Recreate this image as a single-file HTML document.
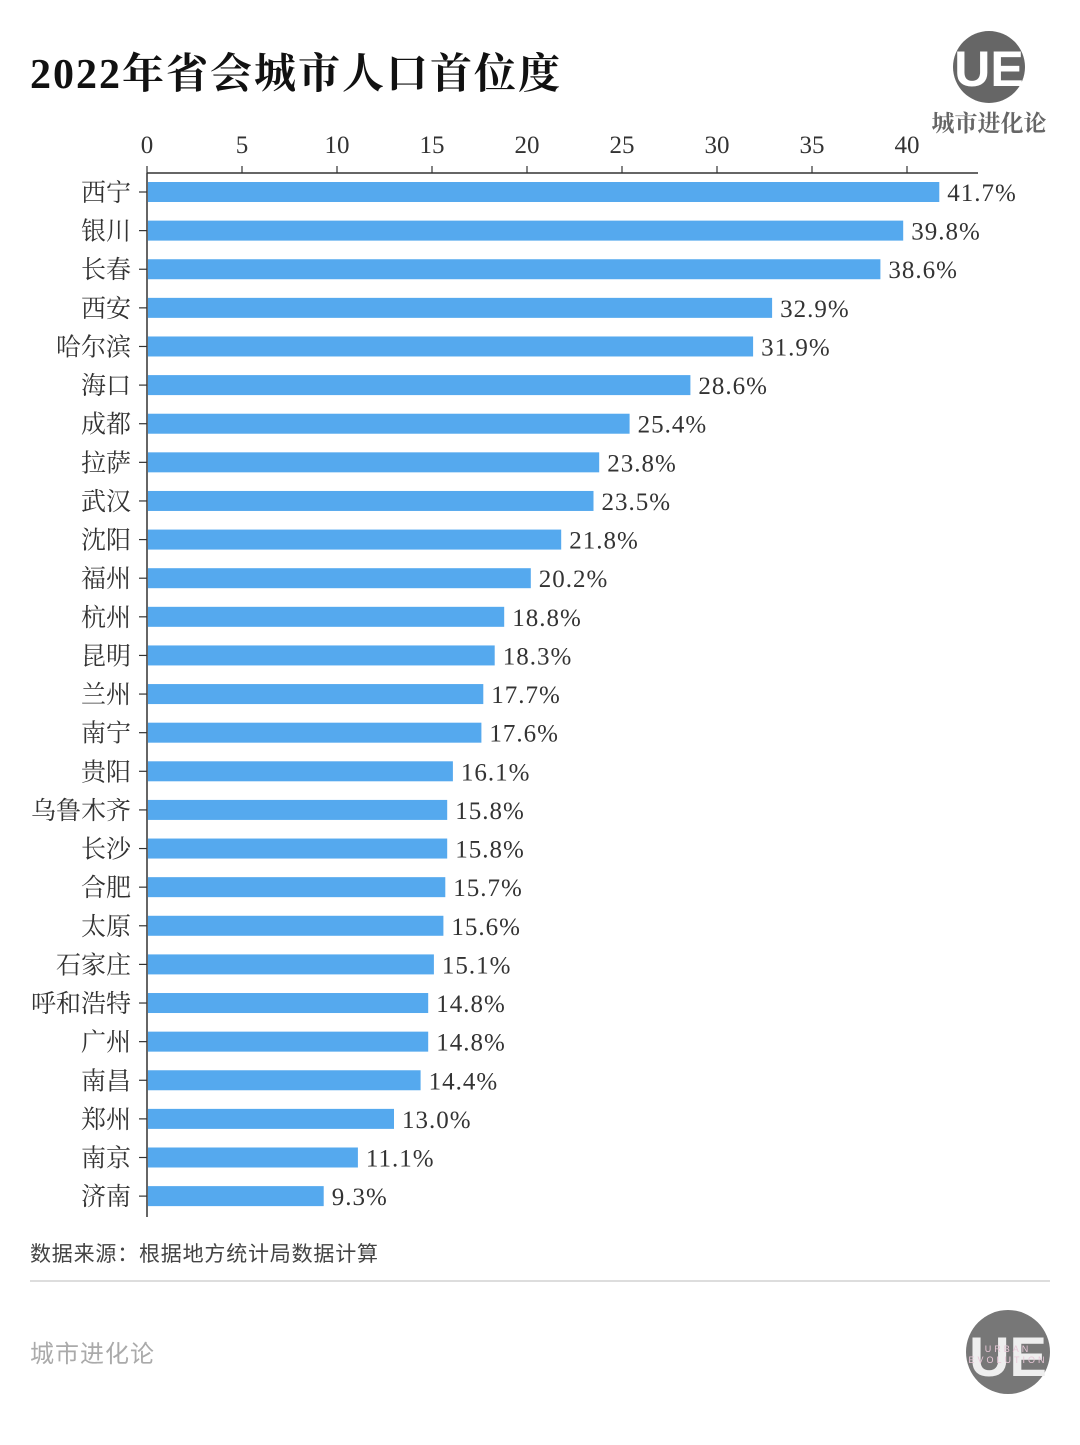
<!DOCTYPE html>
<html><head><meta charset="utf-8">
<style>
html,body{margin:0;padding:0;background:#fff;}
body{width:1080px;height:1440px;overflow:hidden;position:relative;}
svg text{font-family:"Liberation Serif","Noto Serif CJK SC",serif;}
</style></head>
<body>
<svg id="chart" width="1080" height="1440" viewBox="0 0 1080 1440" xmlns="http://www.w3.org/2000/svg">
  <text x="30" y="88" font-size="42" font-weight="bold" fill="#111" letter-spacing="2" style="font-family:'Liberation Serif','Noto Serif CJK SC',serif">2022年省会城市人口首位度</text>
  <g>
    <circle cx="989" cy="67" r="36" fill="#666"/>
    <text x="989" y="86" font-size="50" font-weight="bold" fill="#fff" text-anchor="middle" style="font-family:'Liberation Sans',sans-serif">UE</text>
    <text x="989" y="131" font-size="23" font-weight="bold" fill="#666" text-anchor="middle" style="font-family:'Liberation Serif','Noto Serif CJK SC',serif">城市进化论</text>
  </g>
  <g id="plot"></g>
  <text x="30" y="1261" font-size="21" fill="#444" letter-spacing="0.8" style="font-family:'Liberation Sans','Noto Sans CJK SC',sans-serif">数据来源：根据地方统计局数据计算</text>
  <line x1="30" y1="1281" x2="1050" y2="1281" stroke="#ddd" stroke-width="2"/>
  <text x="30" y="1362" font-size="24" fill="#aaa" letter-spacing="1" style="font-family:'Liberation Sans','Noto Sans CJK SC',sans-serif">城市进化论</text>
  <g>
    <circle cx="1008" cy="1352" r="42" fill="#777"/>
    <text x="1008" y="1376" font-size="56" font-weight="bold" fill="#eee" text-anchor="middle" style="font-family:'Liberation Sans',sans-serif">UE</text>
    <text x="1008" y="1352" font-size="9" fill="#e8c8d8" text-anchor="middle" letter-spacing="3" style="font-family:'Liberation Sans',sans-serif">URBAN</text>
    <text x="1008" y="1363" font-size="9" fill="#e8c8d8" text-anchor="middle" letter-spacing="3" style="font-family:'Liberation Sans',sans-serif">EVOLUTION</text>
  </g>
</svg>
<script>
const cities = ["西宁","银川","长春","西安","哈尔滨","海口","成都","拉萨","武汉","沈阳","福州","杭州","昆明","兰州","南宁","贵阳","乌鲁木齐","长沙","合肥","太原","石家庄","呼和浩特","广州","南昌","郑州","南京","济南"];
const values = [41.7,39.8,38.6,32.9,31.9,28.6,25.4,23.8,23.5,21.8,20.2,18.8,18.3,17.7,17.6,16.1,15.8,15.8,15.7,15.6,15.1,14.8,14.8,14.4,13.0,11.1,9.3];
const ticks = [0,5,10,15,20,25,30,35,40];

const NS = "http://www.w3.org/2000/svg";
const plot = document.getElementById('plot');
const x0 = 147, pxPerUnit = 19, yFirst = 192, rowStep = 38.62, barH = 20;
const xs = v => x0 + v * pxPerUnit;
const ys = i => yFirst + i * rowStep;
function mk(tag, attrs, parent) {
  const e = document.createElementNS(NS, tag);
  for (const k in attrs) e.setAttribute(k, attrs[k]);
  (parent || plot).appendChild(e);
  return e;
}
let ax = mk('line', {x1: x0, y1: 173, x2: 978, y2: 173, stroke: '#333', 'stroke-width': 1.5});


let ay = mk('line', {x1: x0, y1: 173, x2: x0, y2: 1217, stroke: '#333', 'stroke-width': 1.5});


ticks.forEach(t => {
  const tm = mk('line', {x1: xs(t), y1: 166, x2: xs(t), y2: 173, stroke: '#333', 'stroke-width': 1.2});
  
  
  const tl = mk('text', {x: xs(t), y: 153, 'font-size': 25, fill: '#333', 'text-anchor': 'middle'});
  tl.textContent = t;
  
  
});
cities.forEach((c, i) => {
  const y = ys(i);
  const tm = mk('line', {x1: 139, y1: y, x2: x0, y2: y, stroke: '#333', 'stroke-width': 1.2});
  
  
  const lbl = mk('text', {x: 131, y: y + 9, 'font-size': 25, fill: '#333', 'text-anchor': 'end'});
  lbl.textContent = c;
  
  
  const bar = mk('rect', {x: x0 + 1, y: y - barH / 2, width: xs(values[i]) - x0 - 1, height: barH, fill: '#55a9ee'});
  
  
  const vl = mk('text', {x: xs(values[i]) + 8, y: y + 9, 'font-size': 25, fill: '#333', 'letter-spacing': 1});
  vl.textContent = values[i].toFixed(1) + '%';
  
  
});
</script>
</body></html>
